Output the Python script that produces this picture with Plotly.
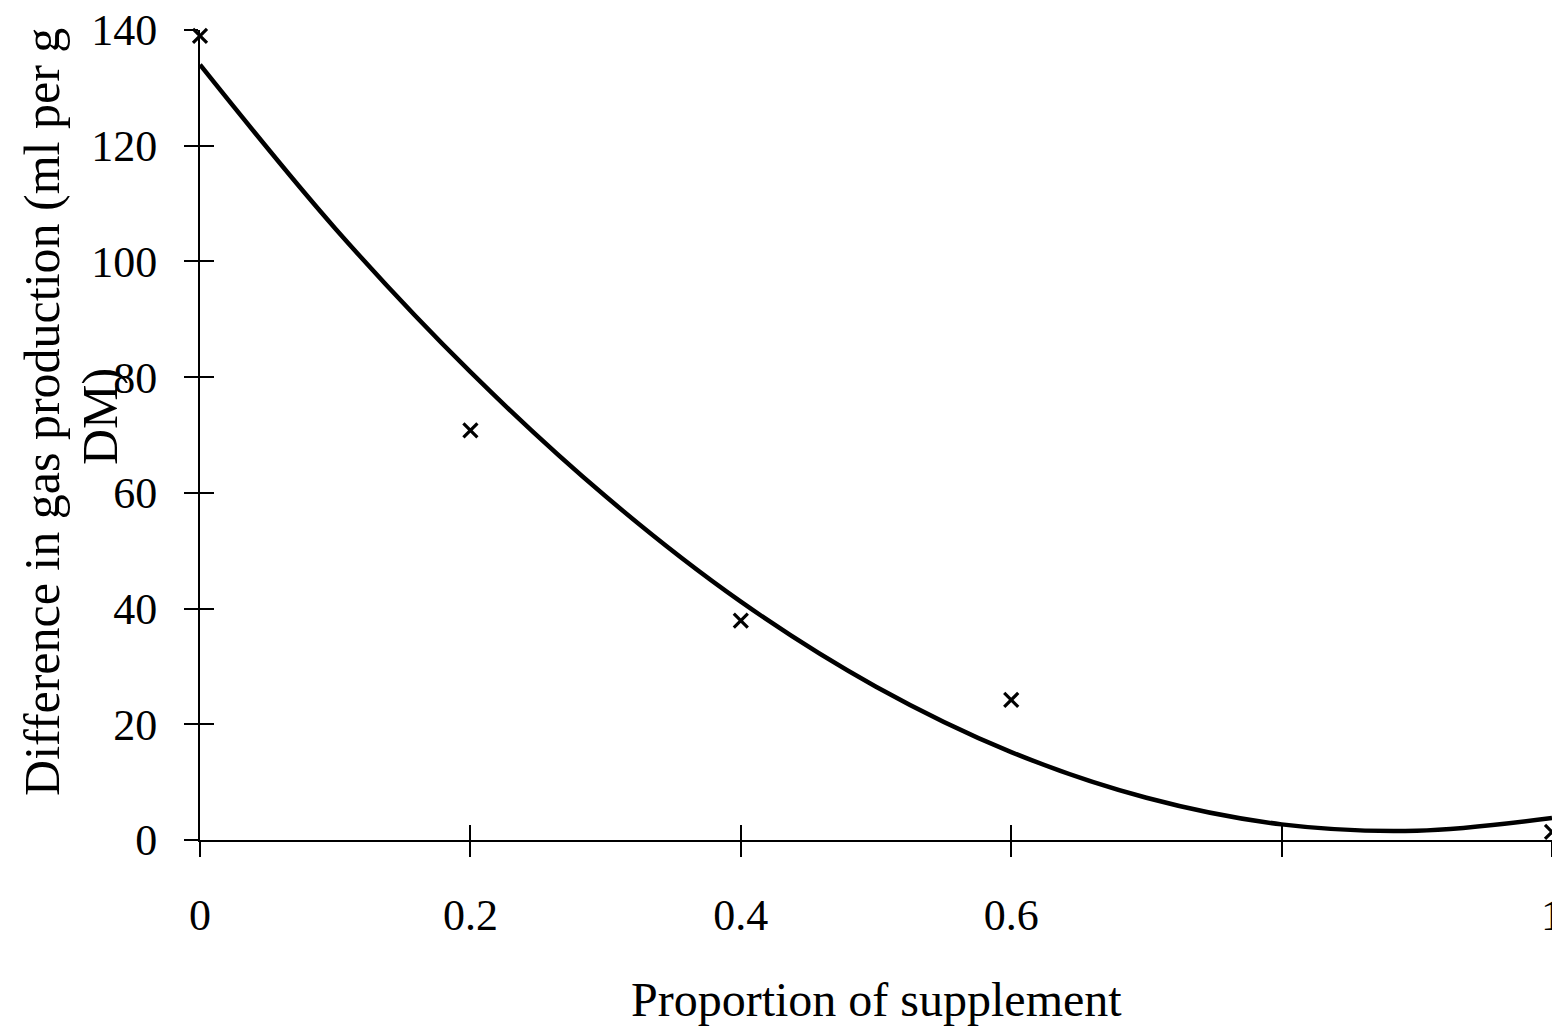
import plotly.graph_objects as go

# Observed data points
obs_x = [0, 0.2, 0.4, 0.6, 1.0]
obs_y = [139, 70.8, 37.9, 24.2, 1.4]

# Fitted trend curve
fit_x = [0, 0.1, 0.2, 0.3, 0.4, 0.5, 0.6, 0.7, 0.8, 0.9, 1.0]
fit_y = [134, 105.7, 80.9, 59.4, 41.2, 26.5, 15.2, 7.3, 2.7, 1.6, 3.8]

x_ticks = [0, 0.2, 0.4, 0.6, 0.8, 1]
x_tick_labels = ["0", "0.2", "0.4", "0.6", "", "1"]
y_ticks = [0, 20, 40, 60, 80, 100, 120, 140]

x_title = "Proportion of supplement"
y_title_line1 = "Difference in gas production (ml per g"
y_title_line2 = "DM)"

FONT = "Liberation Serif, Times New Roman, serif"

fig = go.Figure()
fig.add_trace(go.Scatter(
    x=fit_x, y=fit_y, mode="lines",
    line=dict(color="black", width=4.5, shape="spline"),
    cliponaxis=False, showlegend=False,
))
fig.add_trace(go.Scatter(
    x=obs_x, y=obs_y, mode="markers",
    marker=dict(symbol="x-thin", size=14, line=dict(color="black", width=3.2)),
    cliponaxis=False, showlegend=False,
))
# invisible trace to activate overlay axes (inner half of crossing ticks)
fig.add_trace(go.Scatter(x=[0], y=[0], xaxis="x2", yaxis="y2",
                         mode="markers", marker=dict(opacity=0),
                         showlegend=False, hoverinfo="skip"))

fig.update_layout(
    width=1560, height=1031,
    margin=dict(l=192, r=16, t=22, b=199),
    paper_bgcolor="white", plot_bgcolor="white",
    font=dict(family=FONT, color="black", size=44),
    xaxis=dict(
        range=[0, 1], tickvals=x_ticks, ticktext=x_tick_labels,
        showgrid=False, zeroline=False, showline=True, linecolor="black",
        linewidth=2, ticks="outside", ticklen=15, tickwidth=2, tickcolor="black",
        ticklabelstandoff=20, automargin=False, ticklabeloverflow="allow",
        tickfont=dict(family=FONT, size=44),
    ),
    yaxis=dict(
        range=[0, 140], tickvals=y_ticks,
        showgrid=False, zeroline=False, showline=True, linecolor="black",
        linewidth=2, ticks="outside", ticklen=14, tickwidth=2, tickcolor="black",
        ticklabelstandoff=18, automargin=False, ticklabeloverflow="allow",
        tickfont=dict(family=FONT, size=44),
    ),
    xaxis2=dict(range=[0, 1], tickvals=x_ticks, overlaying="x", anchor="y2",
                showticklabels=False, showgrid=False, zeroline=False,
                ticks="inside", ticklen=15, tickwidth=2, tickcolor="black",
                automargin=False),
    yaxis2=dict(range=[0, 140], tickvals=y_ticks, overlaying="y", anchor="x2",
                showticklabels=False, showgrid=False, zeroline=False,
                ticks="inside", ticklen=14, tickwidth=2, tickcolor="black",
                automargin=False),
    annotations=[
        dict(text=x_title, xref="paper", yref="paper", x=0.5, y=-0.1975,
             xanchor="center", yanchor="middle", showarrow=False,
             font=dict(family=FONT, size=48)),
        dict(text=y_title_line1, xref="paper", yref="paper", x=-0.1169, y=0.5284,
             xanchor="center", yanchor="middle", textangle=-90, showarrow=False,
             font=dict(family=FONT, size=50)),
        dict(text=y_title_line2, xref="paper", yref="paper", x=-0.0735, y=0.523,
             xanchor="center", yanchor="middle", textangle=-90, showarrow=False,
             font=dict(family=FONT, size=50)),
    ],
)

fig.write_html("out.html")
